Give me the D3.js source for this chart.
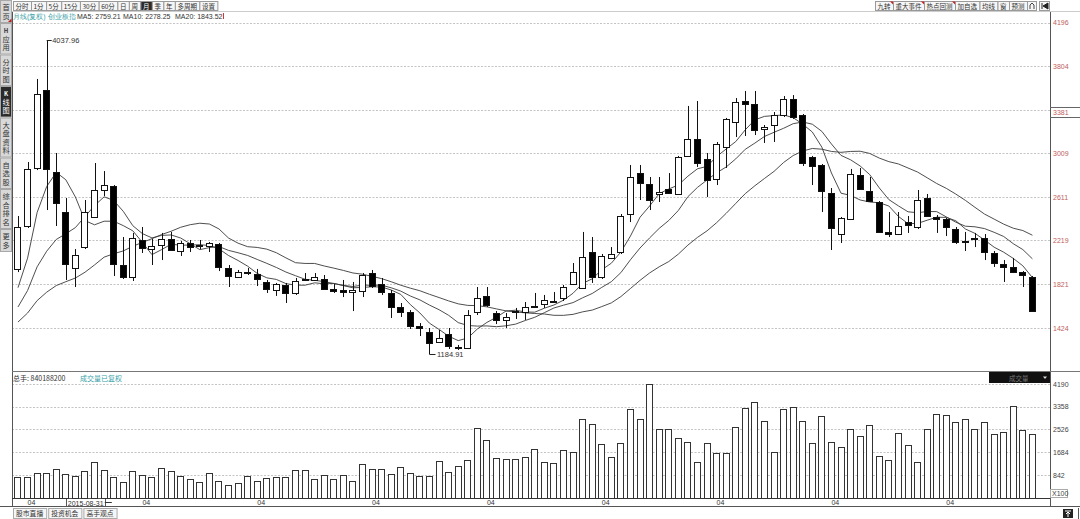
<!DOCTYPE html>
<html><head><meta charset="utf-8">
<script src="https://cdn.jsdelivr.net/npm/d3@7/dist/d3.min.js"></script>
<style>
body{margin:0;background:#fff;overflow:hidden}
svg{display:block}
text{font-family:"Liberation Sans",Arial,sans-serif}
.cjk{font-family:"Noto Sans CJK SC","Liberation Sans",sans-serif}
</style>
</head><body>
<svg id="c" width="1080" height="519"></svg>
<script>
// ---------------- DATA (monthly candles, 创业板指, 2015-03 .. 2024-01) ----------------
const opens = [1960,2350,2877,3585,2840,2477,1969,2159,2432,2677,
2713,1996,1887,2223,2141,2178,2232,2123,2196,2173,
2168,2187,1969,1887,1932,1914,1842,1769,1814,1742,
1864,1860,1869,1778,1769,1751,1760,1923,1823,1742,
1615,1569,1442,1388,1297,1369,1252,1242,1569,1715,
1560,1497,1574,1569,1619,1642,1664,1696,1823,1787,
2114,1887,2060,2114,2459,2831,2731,2641,2686,2641,
2986,3140,2958,2777,3067,3294,3485,3458,3231,3267,
3358,3503,3358,2977,2904,2650,2277,2414,2813,2668,
2568,2296,2277,2386,2341,2604,2432,2414,2323,2205,
2232,2241,2105,2005,1978,1932,1887];
const highs = [2441,2931,3685,4037.96,3013,2604,2141,2586,2922,2849,
2722,2250,2287,2341,2232,2287,2296,2214,2223,2223,
2205,2196,1996,1951,1969,1960,1860,1833,1833,1878,
1923,1923,1905,1823,1860,1842,1923,1951,1878,1769,
1651,1587,1469,1424,1406,1424,1270,1587,1796,1796,
1578,1560,1606,1660,1742,1724,1751,1814,2014,2296,
2250,2096,2159,2459,2904,2904,2795,2795,2831,2986,
3440,3485,3013,3113,3331,3512,3576,3576,3267,3385,
3530,3539,3367,2986,2913,2695,2432,2868,2877,2795,
2577,2477,2477,2441,2677,2641,2450,2423,2341,2296,
2287,2277,2123,2041,2060,1941,1896];
const lows = [1932,2332,2858,2495,2350,1860,1796,2141,2423,2622,
1896,1869,1851,2105,1996,2041,2123,2078,2114,2141,
2114,1941,1796,1878,1905,1805,1742,1715,1651,1724,
1851,1851,1769,1742,1705,1578,1705,1787,1724,1515,
1524,1415,1351,1184.91,1288,1233,1224,1233,1542,1615,
1460,1424,1506,1497,1615,1606,1660,1669,1814,1778,
1833,1869,2050,2096,2386,2586,2495,2568,2641,2632,
2977,2886,2613,2722,2877,3158,3167,3176,3104,3113,
3340,3322,2895,2722,2477,2132,2196,2405,2677,2568,
2287,2250,2268,2287,2323,2432,2287,2259,2187,2123,
2159,2041,1978,1842,1923,1796,1569];
const closes = [2341,2868,3549,2868,2559,2005,2087,2477,2677,2722,
2005,1887,2241,2150,2168,2232,2132,2196,2159,2182,
2196,1978,1896,1932,1923,1869,1778,1823,1742,1851,
1869,1887,1778,1760,1751,1769,1905,1805,1751,1615,
1569,1442,1424,1288,1333,1261,1242,1542,1696,1633,
1497,1524,1578,1615,1624,1678,1669,1796,1932,2069,
1887,2078,2096,2441,2795,2740,2586,2659,2650,2977,
3140,2922,2768,3095,3322,3476,3458,3222,3249,3358,
3503,3340,2922,2895,2668,2332,2423,2822,2686,2577,
2296,2277,2350,2359,2586,2441,2414,2341,2205,2214,
2241,2114,2014,1978,1932,1905,1578];
// closes of the 19 months before the first drawn candle (2013-08 .. 2015-02), estimated from the MA lines
const priorCloses = [1230,1290,1340,1356,1305,1420,1426,1350,1310,1383,1380,1390,1450,1495,1484,1530,1472,1690,1918];
// volume (x100 units as on the axis)
const volumes = [761,783,908,930,1055,871,809,993,1324,1030,
761,588,1004,835,783,1092,1004,809,699,588,
908,636,467,552,809,636,724,783,761,1030,
1030,710,835,699,846,636,1232,1055,1077,871,
1151,930,820,820,1349,967,1188,1397,2585,2133,
1460,1423,1423,1497,1791,1324,1276,1754,1702,2916,
2710,1997,1497,2011,3261,2894,4180,2526,2548,2195,
2070,1324,2011,1666,1666,2622,3320,3541,2842,1680,
3261,3335,2842,2011,3026,2059,1886,2526,2280,2673,
1555,1397,2379,1949,1335,2526,3078,3052,2806,2894,
2526,2783,2353,2438,3383,2500,2342];
const priceTicks = [1424,1821,2219,2611,3009,3407,3804,4196];
const priceTickLabels = ["1424","1821","2219","2611","3009","","3804","4196"];
const markerPrice = 3381;
const volTicks = [842,1684,2526,3358,4190];
const maPeriods = [5,10,20];
const maLegend = ["MA5: 2759.21","MA10: 2278.25","MA20: 1843.52"];
const highLabel = "4037.96", lowLabel = "1184.91";
const cursorDate = "2015-08-31";
const totalVolText = "总手: 840188200";
const leftTools = ["分时","1分","5分","15分","30分","60分","日","周","月","季","年","多周期","设置"];
const rightTools = ["九转","重大事件","热点回测","加自选","均线","窗","预测"];
const sideTabs = ["首页","H应用","分时图","K线图","大盘资料","自选股","综合排名","更多"];
const bottomTabs = ["股市直播","投资机会","高手观点"];

// ---------------- SCALES ----------------
const svg = d3.select("#c");
const L = 12, R = 1050;
const months = d3.timeMonth.range(new Date(2015,2,1), new Date(2024,1,1));
const cats = months.map(d3.timeFormat("%Y-%m"));
const x = d3.scaleBand().domain(cats).range([13.2,1037.2]).paddingInner(0.27).paddingOuter(0.135);
const cx = i => x(cats[i]) + x.bandwidth()/2;
const y = d3.scaleLinear().domain([1424,4196]).range([328,22.7]);
const yv = d3.scaleLinear().domain([0,4190]).range([498,384]);
const px = v => Math.round(v) + 0.5;

// ---------------- GRID ----------------
const grid = svg.append("g");
grid.selectAll("line.pg").data(priceTicks).join("line")
  .attr("x1",L).attr("x2",R).attr("y1",d=>px(y(d))).attr("y2",d=>px(y(d)))
  .attr("stroke","#c4c4c4").attr("stroke-dasharray","2,1.5");
grid.selectAll("line.vg").data(volTicks).join("line")
  .attr("x1",L).attr("x2",R).attr("y1",d=>px(yv(d))).attr("y2",d=>px(yv(d)))
  .attr("stroke","#c4c4c4").attr("stroke-dasharray","2,1.5");

// frame lines
const frame = svg.append("g").attr("stroke","#555").attr("stroke-width",1);
frame.append("line").attr("x1",L+0.5).attr("x2",L+0.5).attr("y1",11).attr("y2",507);
frame.append("line").attr("x1",R+0.5).attr("x2",R+0.5).attr("y1",11).attr("y2",507);
frame.append("line").attr("x1",L).attr("x2",1080).attr("y1",371.5).attr("y2",371.5).attr("stroke","#777");
frame.append("line").attr("x1",L).attr("x2",R).attr("y1",498.5).attr("y2",498.5).attr("stroke","#333");
frame.append("line").attr("x1",0).attr("x2",1080).attr("y1",506.5).attr("y2",506.5).attr("stroke","#555");
frame.append("line").attr("x1",L).attr("x2",1080).attr("y1",11.5).attr("y2",11.5).attr("stroke","#ccc");

// ---------------- AXES ----------------
const pax = svg.append("g").attr("transform",`translate(${R},0)`)
  .call(d3.axisRight(y).tickValues(priceTicks).tickFormat((d,i)=>priceTickLabels[i]).tickSize(0).tickPadding(3));
pax.select(".domain").remove();
pax.selectAll("text").attr("fill","#c0605c").attr("font-size",7).attr("font-family","Liberation Sans, Arial, sans-serif");
// current price marker box
const mk = svg.append("g");
mk.append("line").attr("x1",R).attr("x2",1080).attr("y1",px(y(markerPrice))-5).attr("y2",px(y(markerPrice))-5).attr("stroke","#666");
mk.append("line").attr("x1",R).attr("x2",1080).attr("y1",px(y(markerPrice))+5).attr("y2",px(y(markerPrice))+5).attr("stroke","#666");
mk.append("text").attr("x",R+3).attr("y",y(markerPrice)+2.5).attr("font-size",7).attr("fill","#c0605c").text(markerPrice);

const vax = svg.append("g").attr("transform",`translate(${R},0)`)
  .call(d3.axisRight(yv).tickValues(volTicks).tickFormat(d3.format("d")).tickSize(0).tickPadding(3));
vax.select(".domain").remove();
vax.selectAll("text").attr("fill","#444").attr("font-size",7).attr("font-family","Liberation Sans, Arial, sans-serif");
svg.append("rect").attr("x",R+0.5).attr("y",489.5).attr("width",17).attr("height",8).attr("fill","none").attr("stroke","#aaa");
svg.append("text").attr("x",R+2).attr("y",496).attr("font-size",7).attr("fill","#444").text("X100");

// date axis
const aprilIdx = months.map((m,i)=>m.getMonth()===3?i:-1).filter(i=>i>=0);
svg.append("g").selectAll("text").data(aprilIdx).join("text")
  .attr("x",i=>cx(i)).attr("y",505).attr("font-size",7).attr("fill","#333")
  .text(i=>d3.timeFormat("%m")(months[i]));
const ci = 5;
svg.append("rect").attr("x",px(cx(ci))).attr("y",498.5).attr("width",39).attr("height",8).attr("fill","#fff").attr("stroke","#555");
svg.append("text").attr("x",cx(ci)+2).attr("y",505.5).attr("font-size",7).attr("fill","#333").text(cursorDate);
svg.append("line").attr("x1",cx(ci)+39).attr("x2",cx(ci)+46).attr("y1",502.5).attr("y2",502.5).attr("stroke","#333");

// ---------------- MOVING AVERAGES ----------------
const allCloses = priorCloses.concat(closes);
const off = priorCloses.length;
const line = d3.line().x((d,i)=>cx(i)).y(d=>y(d));
maPeriods.forEach(n=>{
  const ma = closes.map((c,i)=>d3.mean(allCloses.slice(i+off-n+1,i+off+1)));
  svg.append("path").attr("d",line(ma)).attr("fill","none").attr("stroke","#3a3a3a").attr("stroke-width",0.9);
});

// ---------------- CANDLES ----------------
const idx = d3.range(closes.length);
const cg = svg.append("g");
cg.selectAll("line").data(idx).join("line")
  .attr("x1",i=>px(cx(i))).attr("x2",i=>px(cx(i)))
  .attr("y1",i=>y(highs[i])).attr("y2",i=>y(lows[i]))
  .attr("stroke","#111").attr("stroke-width",1);
cg.selectAll("rect").data(idx).join("rect")
  .attr("x",i=>px(cx(i)-3.5)).attr("width",6)
  .attr("y",i=>px(y(Math.max(opens[i],closes[i]))))
  .attr("height",i=>Math.max(1,Math.round(Math.abs(y(opens[i])-y(closes[i])))))
  .attr("fill",i=>closes[i]>=opens[i]?"#fff":"#000")
  .attr("stroke","#111");

// high / low labels
const hi = highs.indexOf(d3.max(highs)), lo = lows.indexOf(d3.min(lows));
svg.append("line").attr("x1",cx(hi)).attr("x2",cx(hi)+5).attr("y1",px(y(highs[hi]))).attr("y2",px(y(highs[hi]))).attr("stroke","#222");
svg.append("text").attr("x",cx(hi)+5.5).attr("y",y(highs[hi])+2.8).attr("font-size",7.5).attr("fill","#333").text(highLabel);
svg.append("line").attr("x1",cx(lo)).attr("x2",cx(lo)+6).attr("y1",px(y(lows[lo]))).attr("y2",px(y(lows[lo]))).attr("stroke","#222");
svg.append("text").attr("x",cx(lo)+7.5).attr("y",y(lows[lo])+2.8).attr("font-size",7.5).attr("fill","#333").text(lowLabel);

// ---------------- VOLUME ----------------
svg.append("g").selectAll("rect").data(idx).join("rect")
  .attr("x",i=>px(cx(i)-3.5)).attr("width",6)
  .attr("y",i=>px(yv(volumes[i]))).attr("height",i=>Math.round(498-yv(volumes[i])))
  .attr("fill","#fff").attr("stroke","#333");

// volume header
svg.append("text").attr("class","cjk").attr("x",13).attr("y",381).attr("font-size",7).attr("fill","#333").text(totalVolText);
svg.append("text").attr("class","cjk").attr("x",80).attr("y",381).attr("font-size",7).attr("fill","#3a9fa8").text("成交量已复权");
svg.append("rect").attr("x",989).attr("y",372).attr("width",61).attr("height",11).attr("fill","#111");
svg.append("text").attr("class","cjk").attr("x",1009).attr("y",380.5).attr("font-size",6.5).attr("fill","#777").text("成交量");
svg.append("path").attr("d","M1043,376.5 L1047,376.5 L1045,379 Z").attr("fill","#ddd");

// ---------------- INFO LINE ----------------
const info = svg.append("g").attr("class","cjk").attr("font-size",7);
info.append("text").attr("x",13).attr("y",19).attr("fill","#3a9fa8").text("月线(复权)");
info.append("text").attr("x",48).attr("y",19).attr("fill","#3a9fa8").text("创业板指");
const maX = [77,123,175];
maLegend.forEach((t,i)=>info.append("text").attr("x",maX[i]).attr("y",19).attr("fill","#333").attr("font-family","Liberation Sans, Arial, sans-serif").text(t));
svg.append("line").attr("x1",223.5).attr("x2",223.5).attr("y1",13).attr("y2",19).attr("stroke","#e03030");

// ---------------- TOOLBARS ----------------
function toolbar(labels, x0, active, marks){
  let xx = x0;
  labels.forEach((t,i)=>{
    const g = svg.append("g");
    const txt = g.append("text").attr("class","cjk").attr("x",xx+2.5).attr("y",8.6).attr("font-size",6.5)
      .attr("fill", i===active?"#fff":"#333").text(t);
    const w = txt.node().getComputedTextLength()+5;
    g.insert("rect","text").attr("x",xx+0.5).attr("y",1.5).attr("width",w).attr("height",9)
      .attr("fill", i===active?"#2a2a2a":"#f6f6f6").attr("stroke","#9a9a9a");
    if (marks && marks.includes(i)) g.append("path").attr("d",`M${xx+w-3},1.5 L${xx+w+0.5},1.5 L${xx+w+0.5},5 Z`).attr("fill","#d02020");
    xx += w;
  });
  return xx;
}
toolbar(leftTools, 13, leftTools.indexOf("月"), []);
const rx = toolbar(rightTools, 875, -1, [0,1,2]);
svg.append("rect").attr("x",rx+0.5).attr("y",1.5).attr("width",9).attr("height",9).attr("fill","#f6f6f6").attr("stroke","#9a9a9a");
svg.append("path").attr("d",`M${rx+3},9 L${rx+3},5 L${rx+5},3 L${rx+7},5 L${rx+7},9`).attr("fill","none").attr("stroke","#444");
svg.append("rect").attr("x",1039.5).attr("y",1.5).attr("width",10).attr("height",9).attr("fill","#f6f6f6").attr("stroke","#9a9a9a");
svg.append("path").attr("d","M1042,3 L1042,9 M1048,3 L1043,6 L1048,9 Z").attr("fill","#222").attr("stroke","#222");

// ---------------- SIDEBAR ----------------
const sb = svg.append("g");
let sy = 0;
sideTabs.forEach((t,i)=>{
  const chars = Array.from(t);
  const h = chars.length*8.5 + 6;
  const active = t==="K线图";
  sb.append("rect").attr("x",0.5).attr("y",sy+0.5).attr("width",11).attr("height",h-1)
    .attr("fill",active?"#2a2a2a":"#d9d9d9").attr("stroke","#a8a8a8");
  chars.forEach((c,k)=>{
    sb.append("text").attr("class","cjk").attr("x",6).attr("y",sy+3+8.5*(k+1)-1.5)
      .attr("text-anchor","middle").attr("font-size",(c==="H"||c==="K")?6:7.2)
      .attr("font-weight",(c==="H"||c==="K")?"bold":"normal")
      .attr("fill",active?"#fff":"#333").text(c);
  });
  if (i===0) sb.append("path").attr("d",`M8,${sy+h-1} L11.5,${sy+h-1} L11.5,${sy+h-4.5} Z`).attr("fill","#c02020");
  sy += h;
});

// ---------------- BOTTOM TABS ----------------
let bx = 13;
bottomTabs.forEach(t=>{
  const g = svg.append("g");
  const txt = g.append("text").attr("class","cjk").attr("x",bx+3).attr("y",516).attr("font-size",6.8).attr("fill","#333").text(t);
  const w = txt.node().getComputedTextLength()+6;
  g.insert("rect","text").attr("x",bx+0.5).attr("y",508.5).attr("width",w).attr("height",10).attr("fill","#f6f6f6").attr("stroke","#aaa");
  bx += w + 2;
});
svg.append("rect").attr("x",1063).attr("y",509).attr("width",10).attr("height",9).attr("fill","#222");
svg.append("path").attr("d","M1065,511 L1071,511 M1068,512 L1068,517 M1066,514 L1068,512 L1070,514").attr("stroke","#fff").attr("fill","none");
svg.append("line").attr("x1",1078.5).attr("x2",1078.5).attr("y1",508).attr("y2",519).attr("stroke","#555");
</script>
</body></html>
